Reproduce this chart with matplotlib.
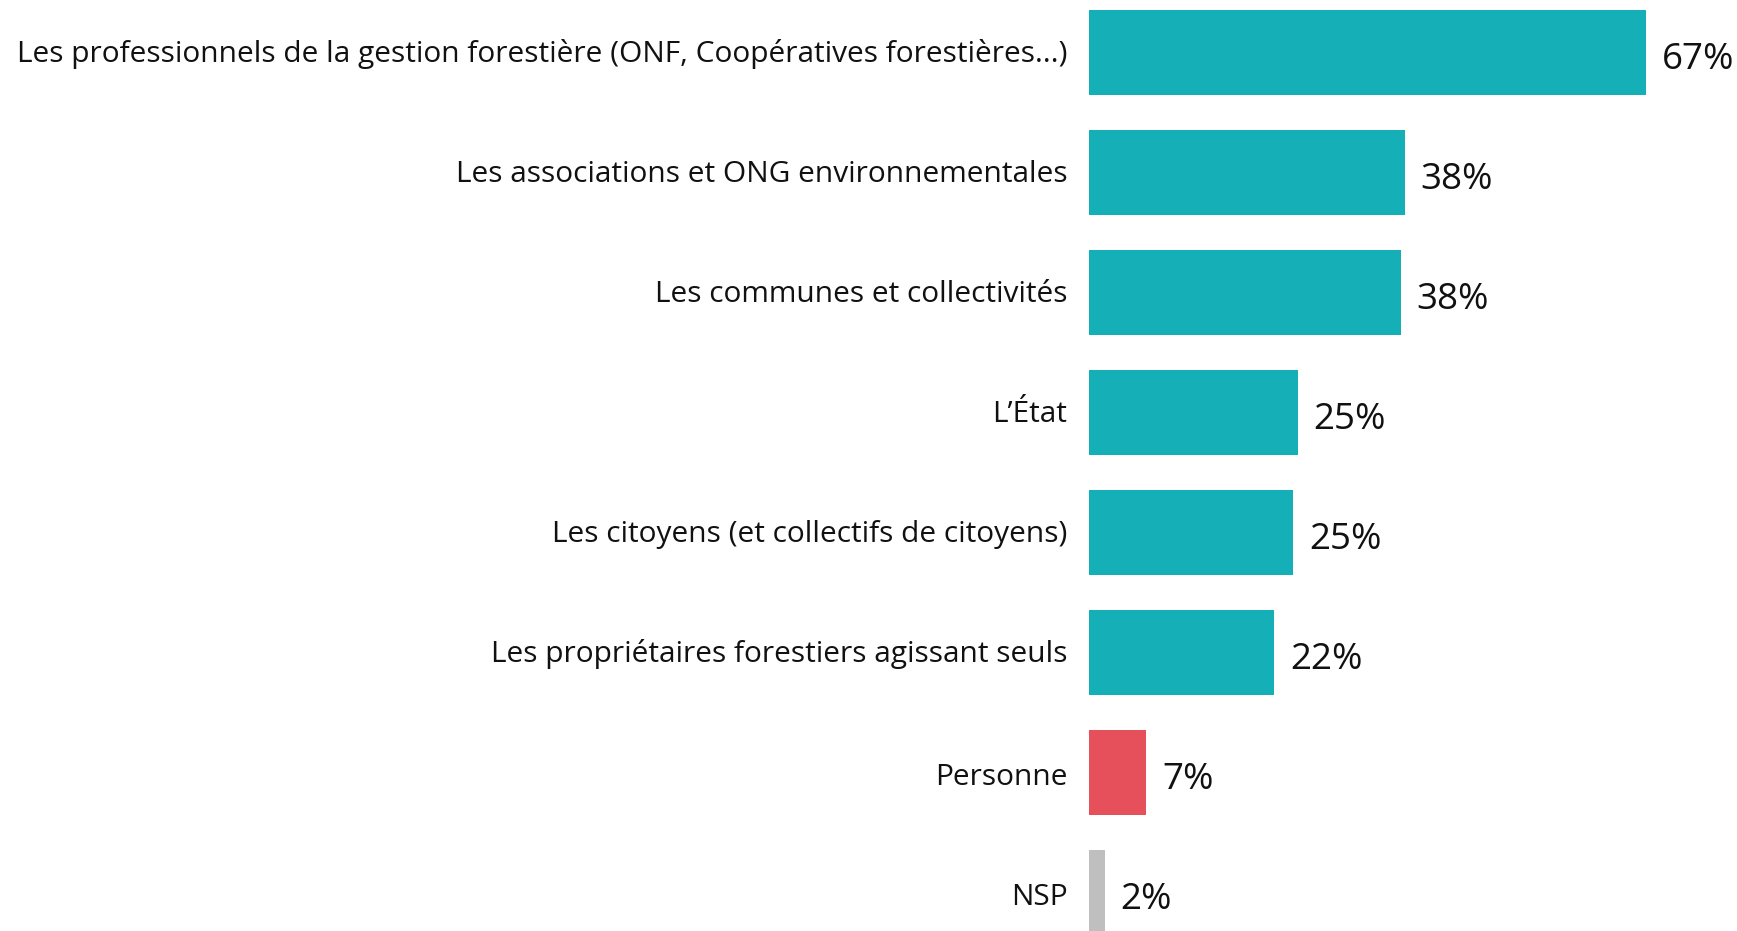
import matplotlib
matplotlib.use('Agg')
import matplotlib.pyplot as plt

# ── Data ──────────────────────────────────────────────────────────────────────
categories = [
    "Les professionnels de la gestion forestière (ONF, Coopératives forestières...)",
    "Les associations et ONG environnementales",
    "Les communes et collectivités",
    "L\u2019État",
    "Les citoyens (et collectifs de citoyens)",
    "Les propriétaires forestiers agissant seuls",
    "Personne",
    "NSP",
]
values = [67.0, 38.0, 37.5, 25.1, 24.6, 22.3, 6.9, 1.9]
value_labels = ["67%", "38%", "38%", "25%", "25%", "22%", "7%", "2%"]

TEAL = '#14AFB7'
RED = '#E5505A'
GREY = '#BFBFBF'
colors = [TEAL] * 6 + [RED, GREY]

plt.rcParams['font.family'] = ['Open Sans', 'DejaVu Sans']

fig = plt.figure(figsize=(17.37, 9.31), dpi=100)
ax = fig.add_axes([1089 / 1737, 0, 1 - 1089 / 1737, 1])

y = list(range(len(categories)))
ax.barh(y, values, height=0.71, color=colors, zorder=3)

ax.set_xlim(0, 78)
ax.set_ylim(7.32, -0.4375)

# percentage labels at bar ends
for i, (v, lab) in enumerate(zip(values, value_labels)):
    ax.text(v + 1.9, i + 0.06, lab, va='center', ha='left', fontsize=26.5, color='#111111')

# category labels left of the bars (baseline a bit below bar centre;
# the last two rows sit slightly lower in the original)
base_off = [0.082] * 6 + [0.105, 0.105]
for i, cat in enumerate(categories):
    ax.text(-2.6, i + base_off[i], cat, va='baseline', ha='right', fontsize=21.5,
            color='#111111', clip_on=False)

ax.axis('off')

fig.savefig('out.png', dpi=100, facecolor='white')
